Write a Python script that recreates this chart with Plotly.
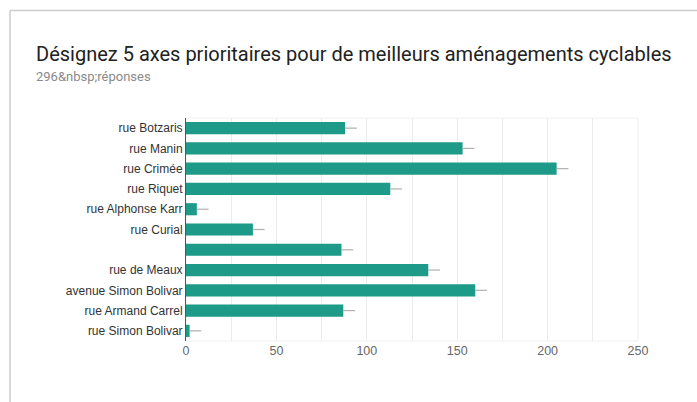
import plotly.graph_objects as go

categories = ["rue Botzaris", "rue Manin", "rue Crimée", "rue Riquet", "rue Alphonse Karr",
              "rue Curial", " ", "rue de Meaux", "avenue Simon Bolivar", "rue Armand Carrel",
              "rue Simon Bolivar"]
values = [88, 153, 205, 113, 6, 37, 86, 134, 160, 87, 2]
whisker = [6.5] * len(values)
x_ticks = [0, 50, 100, 150, 200, 250]

title_text = "Désignez 5 axes prioritaires pour de meilleurs aménagements cyclables"
subtitle_text = "296&amp;nbsp;réponses"

W, H = 697, 402
ml, mr, mt, mb = 186, 59, 118, 61
pw, ph = W - ml - mr, H - mt - mb

def px_x(p):
    return (p - ml) / pw

def px_y(p):
    return 1 - (p - mt) / ph

fig = go.Figure(go.Bar(
    y=categories, x=values, orientation="h",
    marker=dict(color="#1d9a88", line=dict(width=0)),
    error_x=dict(type="data", array=whisker, arrayminus=[0] * len(values),
                 symmetric=False, color="#b0b0b0", thickness=1.2, width=0),
))

fig.update_layout(
    width=W, height=H,
    margin=dict(l=ml, r=mr, t=mt, b=mb),
    paper_bgcolor="white", plot_bgcolor="white",
    showlegend=False, bargap=0.4,
    font=dict(family="Liberation Sans, Arial, sans-serif", size=12, color="#333"),
    xaxis=dict(range=[0, 250], tickvals=x_ticks, showgrid=True, gridcolor="#ececec",
               gridwidth=1, zeroline=False, showline=False,
               tickfont=dict(size=12.5, color="#666"), ticks="",
               minor=dict(dtick=25, tick0=0, showgrid=True, gridcolor="#ececec", gridwidth=1),
               fixedrange=True),
    yaxis=dict(autorange="reversed", showgrid=False, zeroline=False,
               showline=True, linecolor="#555", linewidth=1, ticks="",
               tickfont=dict(size=12, color="#333")),
    shapes=[
        dict(type="rect", xref="paper", yref="paper", x0=0, x1=1, y0=0, y1=1,
             line=dict(color="#f0f0f0", width=1), layer="below"),
        dict(type="line", xref="paper", yref="paper", x0=px_x(10), x1=px_x(697),
             y0=px_y(10.5), y1=px_y(10.5), line=dict(color="#cccccc", width=1.5)),
        dict(type="line", xref="paper", yref="paper", x0=px_x(10), x1=px_x(10),
             y0=px_y(10.5), y1=px_y(402), line=dict(color="#cccccc", width=1.5)),
    ],
    annotations=[
        dict(text=title_text, xref="paper", yref="paper", x=px_x(34), y=px_y(54),
             xanchor="left", yanchor="middle", showarrow=False,
             font=dict(family="Roboto, sans-serif", size=20, color="#212121")),
        dict(text=subtitle_text, xref="paper", yref="paper", x=px_x(34), y=px_y(77),
             xanchor="left", yanchor="middle", showarrow=False,
             font=dict(family="Roboto, sans-serif", size=13, color="#8a8a8a")),
    ],
)

fig.write_html("out.html")
